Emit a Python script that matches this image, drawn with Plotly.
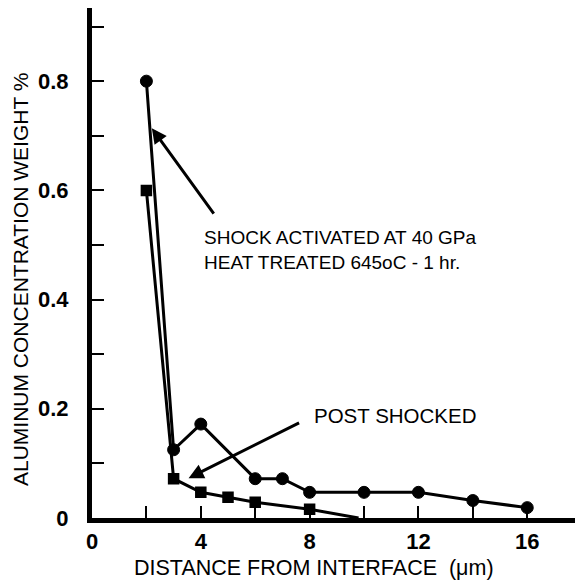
import plotly.graph_objects as go

# Data
x_heat = [2, 3, 4, 6, 7, 8, 10, 12, 14, 16]
y_heat = [0.80, 0.125, 0.172, 0.072, 0.072, 0.047, 0.047, 0.047, 0.032, 0.019]

x_post = [2, 3, 4, 5, 6, 8, 9.8]
y_post = [0.60, 0.072, 0.047, 0.038, 0.029, 0.016, 0.0]
n_post_markers = 6  # the last point (line reaching the axis) has no marker

x_tickvals = [0, 2, 4, 6, 8, 10, 12, 14, 16]
x_ticktext = ["0", "", "4", "", "8", "", "12", "", "16"]
y_tickvals = [0, 0.1, 0.2, 0.3, 0.4, 0.5, 0.6, 0.7, 0.8, 0.9]
y_ticktext = ["0", "", "0.2", "", "0.4", "", "0.6", "", "0.8", ""]

x_title = "DISTANCE FROM INTERFACE  (μm)"
y_title = "ALUMINUM CONCENTRATION WEIGHT %"
label_heat = "SHOCK ACTIVATED AT 40 GPa<br>HEAT TREATED 645oC - 1 hr."
label_post = "POST SHOCKED"

FONT = "Liberation Sans, Arial, sans-serif"
# the page body adds an 8px offset, so the figure is 575 px and margins are shifted
W, H = 575, 575
ML, MR, MT, MB = 84, 0, 0, 65
OFF = 8
PW, PH = W - ML - MR, H - MT - MB


def px_x(px):
    return (px - OFF - ML) / PW


def px_y(py):
    return (H - MB + OFF - py) / PH


fig = go.Figure()
fig.add_trace(go.Scatter(
    x=x_heat, y=y_heat, mode="lines+markers",
    line=dict(color="black", width=3),
    marker=dict(symbol="circle", size=12, color="black", opacity=1,
                line=dict(color="black", width=1)),
    showlegend=False, cliponaxis=False,
))
fig.add_trace(go.Scatter(
    x=x_post, y=y_post, mode="lines",
    line=dict(color="black", width=3),
    showlegend=False, cliponaxis=False,
))
fig.add_trace(go.Scatter(
    x=x_post[:n_post_markers], y=y_post[:n_post_markers], mode="markers",
    marker=dict(symbol="square", size=10, color="#000000", opacity=1,
                line=dict(color="#000000", width=1.5)),
    showlegend=False, cliponaxis=False,
))

# arrows
fig.add_annotation(x=2.2, y=0.714, xref="x", yref="y", text="",
                   showarrow=True, ax=63, ay=87, arrowhead=2,
                   arrowwidth=3, arrowsize=1.0, arrowcolor="black")
fig.add_annotation(x=3.55, y=0.073, xref="x", yref="y", text="",
                   showarrow=True, ax=112, ay=-56, arrowhead=2,
                   arrowwidth=3, arrowsize=1.0, arrowcolor="black")

fig.add_annotation(x=4.05, y=0.49, xref="x", yref="y", text=label_heat,
                   showarrow=False, xanchor="left", yanchor="middle", align="left",
                   font=dict(family=FONT, size=19, color="black"))
fig.add_annotation(x=8.1, y=0.188, xref="x", yref="y", text=label_post,
                   showarrow=False, xanchor="left", yanchor="middle", align="left",
                   font=dict(family=FONT, size=20.5, color="black"))

# axis titles
fig.add_annotation(x=px_x(314), y=px_y(568), xref="paper", yref="paper",
                   xanchor="center", yanchor="middle",
                   text=x_title, showarrow=False,
                   font=dict(family=FONT, size=21.5, color="black"))
fig.add_annotation(x=px_x(20), y=px_y(280), xref="paper", yref="paper",
                   xanchor="center", yanchor="middle", textangle=-90,
                   text=y_title, showarrow=False,
                   font=dict(family=FONT, size=21, color="black"))

fig.update_layout(
    width=W, height=H,
    margin=dict(l=ML, r=MR, t=MT, b=MB, autoexpand=False),
    plot_bgcolor="white", paper_bgcolor="white",
    xaxis=dict(
        range=[0, 18.05], showgrid=False, zeroline=False, automargin=False,
        showline=True, linecolor="black", linewidth=5,
        tickmode="array", tickvals=x_tickvals, ticktext=x_ticktext,
        ticks="inside", ticklen=12, tickwidth=2, tickcolor="black",
        tickfont=dict(family=FONT, size=22, color="black", weight="bold"),
    ),
    yaxis=dict(
        range=[0, 0.934], showgrid=False, zeroline=False, automargin=False,
        showline=True, linecolor="black", linewidth=5,
        tickmode="array", tickvals=y_tickvals, ticktext=y_ticktext,
        ticks="inside", ticklen=12, tickwidth=2, tickcolor="black",
        ticklabelstandoff=14,
        tickfont=dict(family=FONT, size=22, color="black", weight="bold"),
    ),
)

fig.write_html("out.html")
